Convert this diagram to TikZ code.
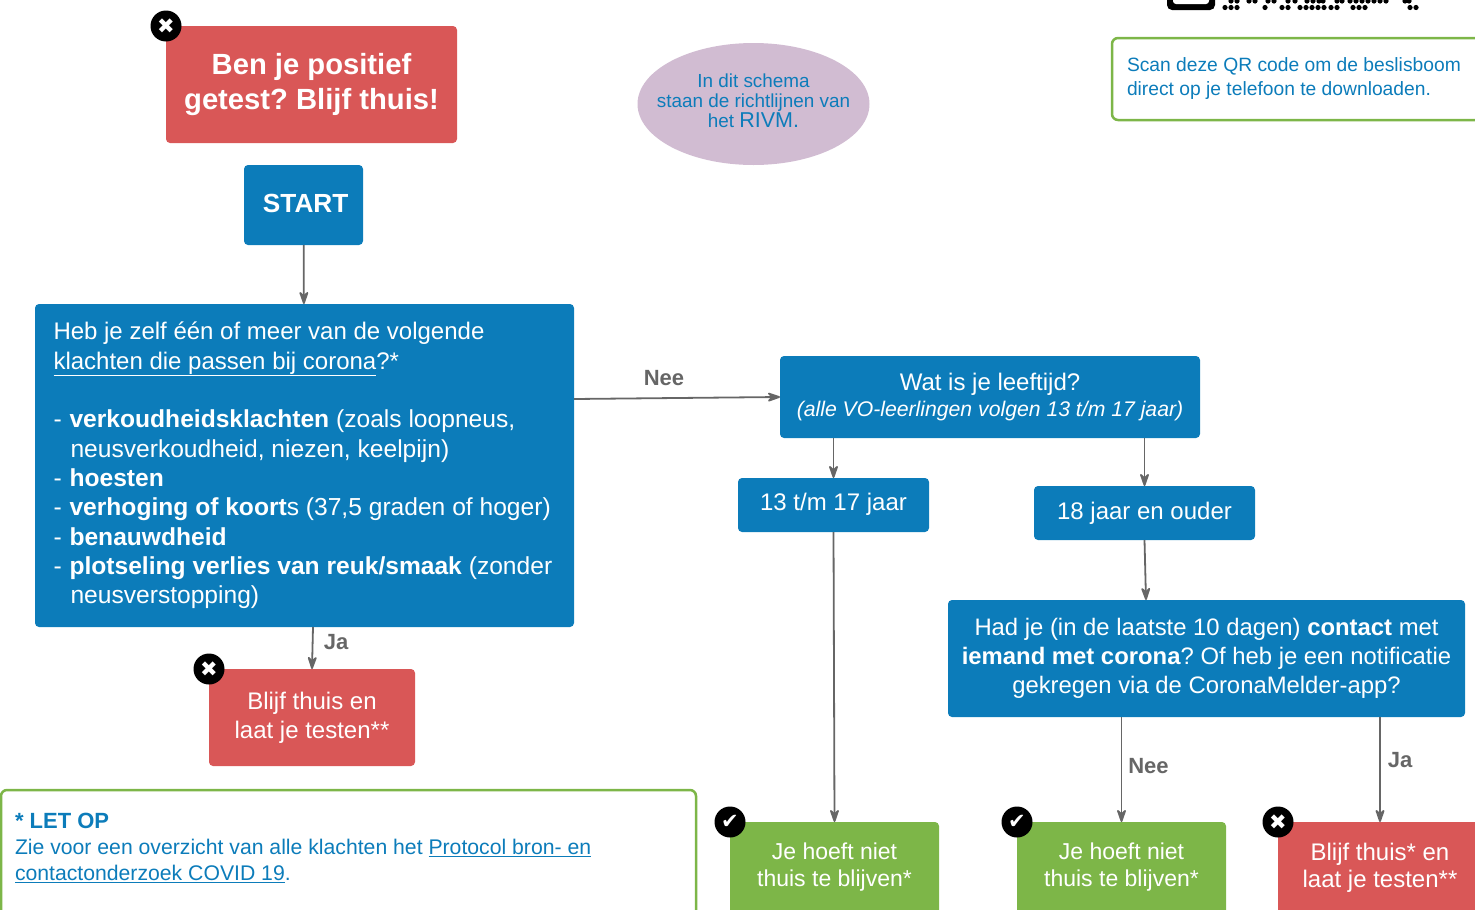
\documentclass[tikz,border=0pt]{standalone}
\usepackage{fontspec}
\setmainfont{Liberation Sans}
\newfontfamily\iconfont{DejaVu Sans}
\usetikzlibrary{arrows.meta, positioning, shapes.geometric}
\definecolor{rivmblue}{HTML}{0C7CBA}
\definecolor{stopred}{HTML}{D95757}
\definecolor{okgreen}{HTML}{7DB648}
\definecolor{notepurple}{HTML}{D1BCD2}
\definecolor{linegray}{HTML}{666666}
\newcommand{\fs}[2]{\fontsize{#1}{#2}\selectfont}
\frenchspacing
\begin{document}
\begin{tikzpicture}[
        x=1pt,y=-1pt,>={Stealth[round,length=16pt,width=11pt]},
        every node/.style={inner sep=0pt,outer sep=0pt},
        box/.style={rectangle,rounded corners=4pt,text=white,align=center,font=\fs{24}{29}},
        bluebox/.style={box,fill=rivmblue},
        redbox/.style={box,fill=stopred},
        greenbox/.style={box,fill=okgreen,minimum width=209pt,minimum height=116pt,anchor=north,font=\fs{23}{27}},
        notebox/.style={rectangle,rounded corners=6pt,draw=okgreen,line width=2.5pt,text=rivmblue,align=flush left},
        badge/.style={circle,fill=black,text=white,minimum size=31pt,font=\iconfont\fs{21}{21}},
        answer/.style={text=linegray,font=\bfseries\fs{22}{26}},
        link/.style={->,draw=linegray,line width=1.8pt},
        ]
        \useasboundingbox (0,0) rectangle (1475,910);
        \clip (0,0) rectangle (1475,910);

        % qr code, cut off by the page
        \fill[black,rounded corners=5pt] (1167,-20) rectangle (1215,10);
        \fill[white,rounded corners=3pt] (1173,-20) rectangle (1209,4);
        \foreach \x in {1225,1231,1237,1265,1282,1288,1300,1306,1312,1318,1324,1331,1337,1353,1359,1365,1410,1416}
          \fill[black] (\x,7.5) circle (2.6pt);
        \foreach \x in {1231,1237,1249,1255,1268,1274,1288,1295,1307,1313,1319,1323,1337,1342,1350,1356,1362,1368,1374,1380,1386,1405,1409}
          \fill[black] (\x,1) circle (2.6pt);

        \node[redbox,minimum width=291pt,minimum height=117pt,font=\bfseries\fs{29.2}{35}] (ben) at (311.5,84.5) {Ben je positief\\getest? Blijf thuis!};
        \node[badge] (benbadge) at (ben.north west) {✖};
        \node[bluebox,minimum width=119pt,minimum height=80pt,font=\bfseries\fs{26.2}{30}] (start) at (303.5,205) {\raisebox{3pt}{\,START}};

        \node[bluebox,minimum width=539pt,minimum height=323pt,align=flush left,text width=502pt,font=\fs{24}{29.3}] (klachten) [below=59pt of start,xshift=1pt]
          {Heb je zelf één of meer van de volgende\\
           \underline{klachten die passen bij corona}?*\\
           ~\\
           \fs{24.6}{29.3}-\hspace{1pt} \textbf{verkoudheidsklachten} (zoals loopneus,\\
           \hspace*{17pt}neusverkoudheid, niezen, keelpijn)\\
           -\hspace{1pt} \textbf{hoesten}\\
           -\hspace{1pt} \textbf{verhoging of koort}s (37,5 graden of hoger)\\
           -\hspace{1pt} \textbf{benauwdheid}\\
           -\hspace{1pt} \textbf{plotseling verlies van reuk/smaak} (zonder\\
           \hspace*{17pt}neusverstopping)};

        \node[redbox,minimum width=206pt,minimum height=97pt] (thuisa) at (312,717.5) {Blijf thuis en\\laat je testen**};
        \node[badge] (thuisabadge) at (thuisa.north west) {✖};

        \node[bluebox,minimum width=420pt,minimum height=82pt] (leeftijd) at (990,397) {Wat is je leeftijd?\\[-3pt]{\itshape\fs{21.2}{26}(alle VO-leerlingen volgen 13 t/m 17 jaar)}};
        \node[bluebox,minimum width=191pt,minimum height=54pt] (jong) at (833.5,505) {\raisebox{6pt}{13 t/m 17 jaar}};
        \node[bluebox,minimum width=221pt,minimum height=54pt] (oud) at (1144.5,513) {\raisebox{5pt}{18 jaar en ouder}};
        \node[bluebox,minimum width=517pt,minimum height=117pt,font=\fs{23.85}{29}] (contact) at (1206.5,658.5)
          {Had je (in de laatste 10 dagen) \textbf{contact} met\\
           \textbf{iemand met corona}? Of heb je een notificatie\\
           gekregen via de CoronaMelder-app?};

        \node[greenbox] (nietjong) at (834.5,822) {Je hoeft niet\\thuis te blijven*\\[4pt]~};
        \node[badge] (nietjongbadge) at (nietjong.north west) {✔};
        \node[greenbox] (nietoud) at (1121.5,822) {Je hoeft niet\\thuis te blijven*\\[4pt]~};
        \node[badge] (nietoudbadge) at (nietoud.north west) {✔};
        \node[greenbox,fill=stopred,minimum width=204pt,font=\fs{24}{27.7}] (thuisb) at (1380,822) {Blijf thuis* en\\laat je testen**\\[2pt]~};
        \node[badge] (thuisbbadge) at (thuisb.north west) {✖};

        \node[ellipse,fill=notepurple,minimum width=232pt,minimum height=122pt,inner xsep=-28pt,text=rivmblue,align=center,font=\fs{18.9}{20}] (rivm) at (753.5,104)
          {In dit schema\\staan de richtlijnen van\\het {\fs{21.5}{20}RIVM.}\\[-14pt]~};

        \node[notebox,minimum width=380pt,minimum height=82pt,text width=350pt,font=\fs{19.25}{23.5}] (scan) at (1302,79)
          {\raisebox{5pt}{Scan deze QR code om de beslisboom}\\\raisebox{5pt}{direct op je telefoon te downloaden.}};
        \node[notebox,minimum width=695pt,minimum height=160pt,anchor=north west,text width=667pt,font=\fs{21.2}{26}] (letop) at (1,790)
          {\textbf{\fs{22}{26}* LET OP}\\
           Zie voor een overzicht van alle klachten het \underline{Protocol bron- en}\\
           \underline{contactonderzoek COVID 19}.\\~\\[-6pt]~};

        \node[answer] (neea) at (664,378) {Nee};
        \node[answer] (jaa) at (336,642) {Ja};
        \node[answer] (neeb) at (1148.5,766) {Nee};
        \node[answer] (jab) at (1400,760) {Ja};

        \draw[link] (start) -- (klachten);
        \draw[link] ([yshift=66.5pt]klachten.east) -- (leeftijd.west);
        \draw[link] ([xshift=8.5pt]klachten.south) -- (thuisa.north);
        \draw[link] (jong.north |- leeftijd.south) -- (jong.north);
        \draw[link] (oud.north |- leeftijd.south) -- (oud.north);
        \draw[link] (oud.south) -- ([xshift=-60.5pt]contact.north);
        \draw[link] (jong.south) -- (nietjong.north);
        \draw[link] (nietoud.north |- contact.south) -- (nietoud.north);
        \draw[link] (thuisb.north |- contact.south) -- (thuisb.north);
      \end{tikzpicture}
\end{document}
